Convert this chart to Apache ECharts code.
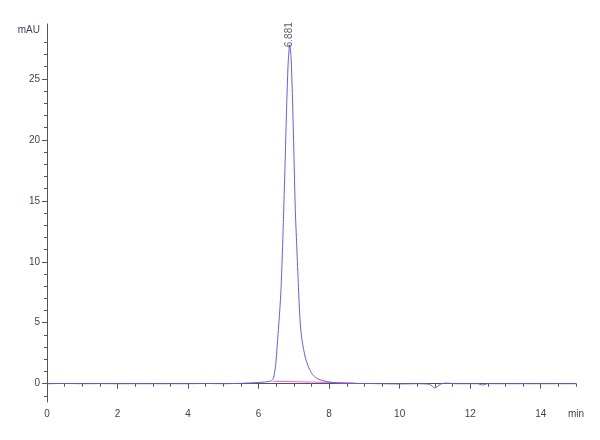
<!DOCTYPE html>
<html>
<head>
<meta charset="utf-8">
<script src="https://cdn.jsdelivr.net/npm/echarts@6/dist/echarts.min.js"></script>
<style>html,body{margin:0;padding:0;background:#fff}#c{width:600px;height:440px}</style>
</head>
<body>
<div id="c"></div>
<script>
// Retention time (min) and absorbance (mAU)
const times = [0, 0.5, 1, 1.5, 2, 3, 4, 4.5, 5, 5.5, 6.0, 6.2, 6.35, 6.42, 6.48, 6.54, 6.6, 6.64, 6.7, 6.75, 6.8, 6.84, 6.881, 6.92, 6.96, 7.0, 7.04, 7.08, 7.12, 7.15, 7.18, 7.22, 7.27, 7.33, 7.39, 7.46, 7.53, 7.65, 7.77, 7.95, 8.15, 8.4, 8.7, 9.0, 9.5, 10.0, 10.5, 10.85, 11.0, 11.15, 11.3, 11.6, 12.2, 12.35, 12.5, 13, 14, 15];
const mAU   = [0, 0.02, 0, 0.01, 0, 0, 0, 0.02, 0, 0.03, 0.1, 0.15, 0.22, 0.45, 1.4, 3.6, 6.0, 8.0, 13.0, 18.0, 23.2, 26.4, 27.8, 26.8, 23.5, 19.0, 14.3, 11.4, 8.6, 6.6, 5.0, 3.8, 2.9, 2.1, 1.55, 1.1, 0.75, 0.45, 0.3, 0.17, 0.08, 0.04, 0.02, 0.02, 0, -0.02, 0, -0.05, -0.35, -0.05, 0.05, 0, 0, -0.1, 0, 0, 0, 0];
const baselineT = [6.4, 8.75];
const baselineV = [0.2, 0.06];
const peakTime = 6.881;
const peakHeight = 27.8;
const peakLabel = '6.881';
const xMajor = [0, 2, 4, 6, 8, 10, 12, 14, 15];
const xMinor = [0,0.5,1,1.5,2,2.5,3,3.5,4,4.5,5,5.5,6,6.5,7,7.5,8,8.5,9,9.5,10,10.5,11,11.5,12,12.5,13,13.5,14,14.5,15];
const yMajor = [0, 5, 10, 15, 20, 25, 29];
const yMinor = [-1,0,1,2,3,4,5,6,7,8,9,10,11,12,13,14,15,16,17,18,19,20,21,22,23,24,25,26,27,28];
const xUnit = 'min';
const yUnit = 'mAU';

const font = "'Liberation Sans Narrow','Liberation Sans',sans-serif";
const axisColor = '#555';
const chart = echarts.init(document.getElementById('c'), null, {renderer: 'canvas'});
const xBase = {type: 'value', min: 0, max: 15, position: 'bottom', splitLine: {show: false}};
const yBase = {type: 'value', min: -1.5, max: 29.5, position: 'left', splitLine: {show: false}};
chart.setOption({
  animation: false,
  backgroundColor: '#fff',
  grid: {left: 47, right: 24, top: 24, bottom: 38},
  xAxis: [
    Object.assign({}, xBase, {
      axisLine: {show: true, lineStyle: {color: axisColor, width: 1}},
      axisTick: {show: true, customValues: xMajor.filter(v => v !== 15), length: 5, lineStyle: {color: axisColor}},
      axisLabel: {show: true, customValues: xMajor, margin: 7, fontSize: 10, fontFamily: font, color: '#444',
        formatter: v => v === 15 ? xUnit : String(v)}
    }),
    Object.assign({}, xBase, {
      axisLine: {show: false},
      axisTick: {show: true, customValues: xMinor, length: 3, lineStyle: {color: axisColor}},
      axisLabel: {show: false}
    })
  ],
  yAxis: [
    Object.assign({}, yBase, {
      axisLine: {show: true, lineStyle: {color: axisColor, width: 1}},
      axisTick: {show: true, customValues: yMajor.filter(v => v !== 29), length: 5, lineStyle: {color: axisColor}},
      axisLabel: {show: true, customValues: yMajor, margin: 7, fontSize: 10, fontFamily: font, color: '#3b4560',
        formatter: v => v === 29 ? yUnit : String(v)}
    }),
    Object.assign({}, yBase, {
      axisLine: {show: false},
      axisTick: {show: true, customValues: yMinor, length: 3, lineStyle: {color: axisColor}},
      axisLabel: {show: false}
    })
  ],
  series: [
    {
      type: 'line', xAxisIndex: 0, yAxisIndex: 0, showSymbol: false, smooth: 0.2,
      lineStyle: {color: '#5d5df5', width: 1},
      data: times.map((t, i) => [t, mAU[i]]),
      z: 3
    },
    {
      type: 'line', xAxisIndex: 0, yAxisIndex: 0, showSymbol: false,
      lineStyle: {color: '#ff55ee', width: 1},
      data: baselineT.map((t, i) => [t, baselineV[i]]),
      z: 2
    },
    {
      type: 'scatter', xAxisIndex: 0, yAxisIndex: 0, symbolSize: 1,
      itemStyle: {color: 'rgba(0,0,0,0)'},
      data: [[peakTime, peakHeight]],
      label: {show: true, formatter: peakLabel, position: [0, 3], rotate: 90,
        align: 'left', verticalAlign: 'middle',
        fontSize: 10, fontFamily: font, color: '#2b3550'},
      z: 4
    }
  ]
});
</script>
</body>
</html>
